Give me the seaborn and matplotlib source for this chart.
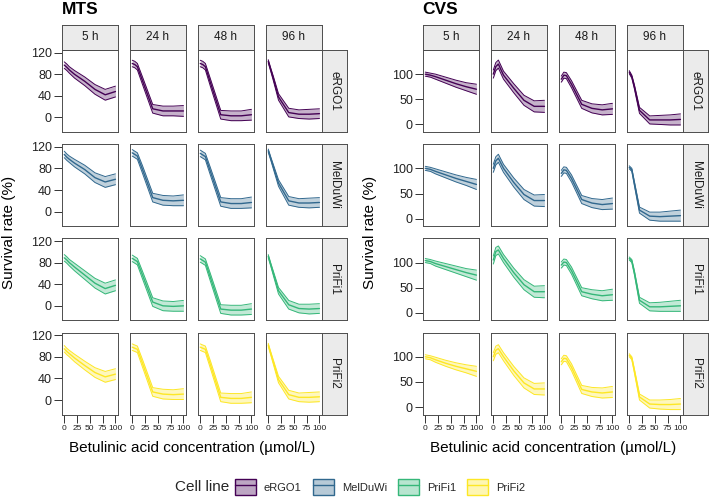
import numpy as np
import matplotlib.pyplot as plt
import seaborn as sns
from matplotlib.patches import Patch
from matplotlib.lines import Line2D
from matplotlib.legend_handler import HandlerTuple

# concentrations (umol/L), facets and colours
conc = [0, 5, 10, 20, 40, 60, 80, 100]
times = ["5 h", "24 h", "48 h", "96 h"]
cell_lines = ["eRGO1", "MelDuWi", "PriFi1", "PriFi2"]
palette = ["#440154", "#31688E", "#35B779", "#FDE725"]

# MTS fitted survival (%), one list per time point (5, 24, 48, 96 h)
mts_ergo1 = [[97, 93, 88, 80, 67, 52, 42, 48],
             [100, 98, 94, 68, 16, 12, 12, 12],
             [100, 98, 94, 64, 5, 3, 3, 5],
             [104, 88, 72, 38, 9, 6, 6, 7]]
mts_melduwi = [[106, 101, 97, 90, 78, 63, 55, 60],
               [109, 106, 103, 78, 26, 21, 20, 21],
               [108, 105, 102, 74, 18, 15, 15, 17],
               [113, 98, 83, 53, 20, 16, 16, 17]]
mts_prifi1 = [[89, 85, 80, 72, 57, 42, 32, 38],
              [88, 85, 82, 57, 7, 0, -1, 0],
              [87, 84, 81, 52, -6, -8, -8, -6],
              [92, 76, 60, 28, 2, -5, -6, -5]]
mts_prifi2 = [[95, 90, 86, 78, 64, 51, 43, 48],
              [98, 96, 94, 68, 15, 11, 10, 11],
              [98, 96, 94, 65, 5, 3, 3, 5],
              [102, 86, 70, 38, 10, 5, 5, 6]]

# CVS fitted survival (%)
cvs_ergo1 = [[100, 99, 98, 95, 88, 81, 75, 70],
             [100, 115, 120, 98, 72, 48, 36, 36],
             [90, 98, 97, 80, 40, 32, 29, 31],
             [104, 95, 75, 28, 9, 9, 9, 10]]
cvs_melduwi = [[100, 99, 98, 94, 87, 80, 74, 68],
               [100, 115, 120, 100, 72, 48, 36, 36],
               [90, 97, 96, 80, 38, 31, 28, 30],
               [102, 97, 70, 17, 5, 4, 5, 6]]
cvs_prifi1 = [[104, 103, 102, 98, 92, 86, 80, 75],
              [105, 122, 125, 108, 80, 56, 42, 42],
              [95, 101, 100, 84, 42, 37, 34, 36],
              [108, 103, 80, 25, 12, 12, 13, 14]]
cvs_prifi2 = [[100, 99, 98, 94, 87, 81, 76, 71],
              [100, 113, 116, 100, 72, 48, 36, 36],
              [90, 97, 96, 79, 35, 30, 28, 30],
              [103, 97, 72, 20, 6, 5, 5, 6]]

# half width of the confidence band per time point
mts_band = [[6, 6, 6, 7, 8, 9, 10, 10],
            [6, 6, 6, 7, 8, 9, 9, 10],
            [6, 6, 6, 7, 8, 9, 9, 10],
            [3, 3, 4, 6, 8, 8, 9, 9]]
cvs_band = [[4, 4, 4, 5, 6, 7, 8, 10],
            [8, 8, 8, 8, 9, 10, 11, 12],
            [6, 6, 6, 7, 8, 9, 10, 11],
            [3, 3, 4, 6, 8, 9, 10, 11]]

mts_yticks = [0, 40, 80, 120]
cvs_yticks = [0, 50, 100]
x_ticks = [0, 25, 50, 75, 100]

sns.set_theme(style="white")
plt.rcParams['font.family'] = ['Liberation Sans', 'DejaVu Sans']

W, H = 709, 499
fig = plt.figure(figsize=(W / 100, H / 100), dpi=100)


def px_axes(x, y, w, h):
    return fig.add_axes([x / W, 1 - (y + h) / H, w / W, h / H])


border = "#4d4d4d"
strip_fill = "#ebebeb"
pw, ph = 56.3, 82
row_y = [50 + 94.2 * i for i in range(4)]

assays = [
    ("MTS", 61.7, [mts_ergo1, mts_melduwi, mts_prifi1, mts_prifi2], mts_band, (-27, 125), mts_yticks),
    ("CVS", 422.7, [cvs_ergo1, cvs_melduwi, cvs_prifi1, cvs_prifi2], cvs_band, (-15, 148), cvs_yticks),
]

for name, x0, series, band, ylim, yticks in assays:
    col_x = [x0 + 68 * j for j in range(4)]
    for i, cl in enumerate(cell_lines):
        color = palette[i]
        for j, t in enumerate(times):
            ax = px_axes(col_x[j], row_y[i], pw, ph)
            mid = np.array(series[i][j], dtype=float)
            hw = np.array(band[j], dtype=float)
            ax.fill_between(conc, mid - hw, mid + hw, color=color, alpha=0.3, linewidth=0)
            sns.lineplot(x=conc, y=mid - hw, color=color, linewidth=0.7, ax=ax)
            sns.lineplot(x=conc, y=mid + hw, color=color, linewidth=0.7, ax=ax)
            sns.lineplot(x=conc, y=mid, color=color, linewidth=1.0, ax=ax)
            ax.set_xlim(-5, 105)
            ax.set_ylim(*ylim)
            ax.set_xlabel("")
            ax.set_ylabel("")
            for s in ax.spines.values():
                s.set_color(border)
                s.set_linewidth(0.7)
            ax.tick_params(length=5.5, width=0.7, color="#333333", labelsize=9,
                           labelcolor="#222222", pad=1.5)
            ax.set_xticks(x_ticks)
            if i == 3:
                ax.set_xticklabels([str(v) for v in x_ticks], fontsize=6)
                ax.tick_params(axis="x", bottom=True, pad=2)
            else:
                ax.set_xticklabels([])
                ax.tick_params(axis="x", bottom=False)
            ax.set_yticks(yticks)
            if j == 0:
                ax.tick_params(axis="y", left=True)
            else:
                ax.set_yticklabels([])
                ax.tick_params(axis="y", left=False)

            # top strips
            if i == 0:
                sa = px_axes(col_x[j], 25, pw, 25)
                sa.set_facecolor(strip_fill)
                sa.set_xticks([])
                sa.set_yticks([])
                for s in sa.spines.values():
                    s.set_color(border)
                    s.set_linewidth(0.7)
                sa.text(0.5, 0.5, t, ha="center", va="center", fontsize=8.5,
                        color="#1a1a1a", transform=sa.transAxes)
        # right strip
        sa = px_axes(col_x[3] + pw, row_y[i], 25, ph)
        sa.set_facecolor(strip_fill)
        sa.set_xticks([])
        sa.set_yticks([])
        for s in sa.spines.values():
            s.set_color(border)
            s.set_linewidth(0.7)
        sa.text(0.5, 0.5, cl, ha="center", va="center", rotation=-90, fontsize=8.5,
                color="#1a1a1a", transform=sa.transAxes)

    fig.text(x0 / W, 1 - 9 / H, name, fontsize=12.5, fontweight="bold",
             ha="left", va="center", color="black")
    fig.text((x0 - 53) / W, 1 - 232 / H, "Survival rate (%)", rotation=90,
             fontsize=11, ha="center", va="center", color="black")
    fig.text((col_x[0] + col_x[3] + pw) / 2 / W, 1 - 448 / H,
             "Betulinic acid concentration (\u00b5mol/L)", fontsize=11,
             ha="center", va="center", color="black")

# legend: filled box with coloured outline and a centre line
handles = []
for c in palette:
    patch = Patch(facecolor=c, edgecolor="none", alpha=0.35)
    edge = Patch(facecolor="none", edgecolor=c, linewidth=1.0)
    line = Line2D([0], [0], color=c, linewidth=1.0)
    handles.append((patch, edge, line))
fig.text(175 / W, 1 - 487 / H, "Cell line", fontsize=11, ha="left", va="center")
fig.legend(handles=handles, labels=cell_lines, ncol=4, frameon=False,
           loc="center left", bbox_to_anchor=(235 / W, 1 - 487 / H),
           handler_map={tuple: HandlerTuple(ndivide=1, pad=0)},
           handlelength=1.9, handleheight=1.9, handletextpad=0.7,
           columnspacing=1.0, fontsize=8, borderpad=0, borderaxespad=0)

fig.savefig("out.png", dpi=100)
